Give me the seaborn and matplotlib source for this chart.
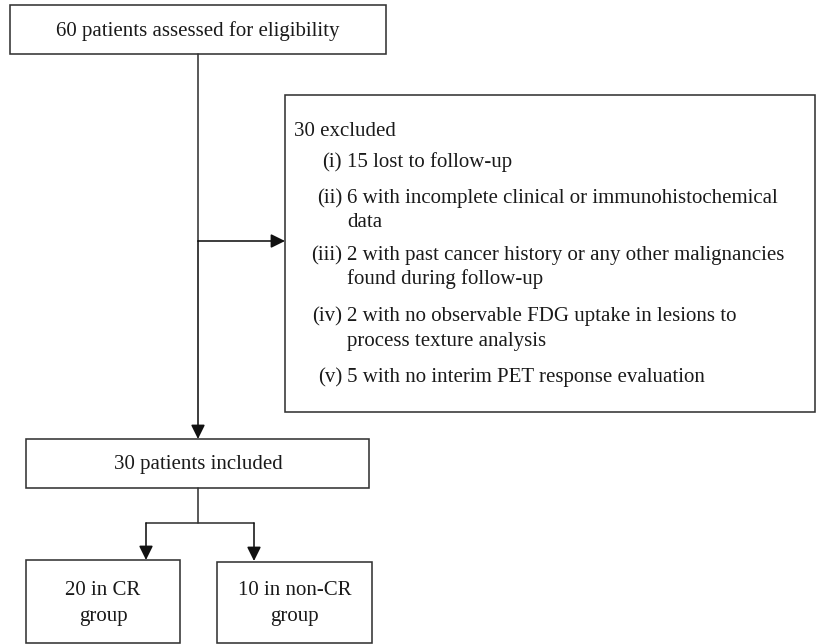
import matplotlib
matplotlib.use("Agg")
import matplotlib.pyplot as plt
import seaborn as sns
from matplotlib.patches import Rectangle

# ================= DATOS =================
top_label = "60 patients assessed for eligibility"
excluded_title = "30 excluded"
excluded_marks = ["(i)", "(ii)", "(iii)", "(iv)", "(v)"]
excluded_items = [
    ["15 lost to follow-up"],
    ["6 with incomplete clinical or immunohistochemical", "data"],
    ["2 with past cancer history or any other malignancies", "found during follow-up"],
    ["2 with no observable FDG uptake in lesions to", "process texture analysis"],
    ["5 with no interim PET response evaluation"],
]
included_label = "30 patients included"
group_labels = [["20 in CR", "group"], ["10 in non-CR", "group"]]

# ================= ESTILO =================
sns.set_style("white")
plt.rcParams["font.family"] = ["Liberation Serif", "DejaVu Serif"]
LINE = "#333333"
TXT = "#1a1a1a"
FS = 15
LW = 1.15

fig = plt.figure(figsize=(8.17, 6.44), dpi=100)
ax = fig.add_axes([0, 0, 1, 1])
ax.set_xlim(0, 817)
ax.set_ylim(644, 0)
ax.axis("off")


def caja(x0, y0, x1, y1):
    ax.add_patch(Rectangle((x0, y0), x1 - x0, y1 - y0, fill=False,
                           edgecolor=LINE, linewidth=LW))


def texto(x, y, s, ha="left"):
    ax.text(x, y, s, ha=ha, va="baseline", fontsize=FS, color=TXT)


def flecha(x0, y0, x1, y1):
    ax.annotate("", xy=(x1, y1), xytext=(x0, y0),
                arrowprops=dict(arrowstyle="-|>,head_length=0.85,head_width=0.42",
                                color="#111111", lw=LW, shrinkA=0, shrinkB=0))


# caja superior
caja(10, 5, 386, 54)
texto(198, 36, top_label, ha="center")

# línea principal y flecha lateral
ax.plot([198, 198], [54, 241], color=LINE, lw=LW)
flecha(198, 241, 285, 241)
flecha(198, 241, 198, 439)

# caja de excluidos
caja(285, 95, 815, 412)
texto(294, 136, excluded_title)
fila_y = [[167], [203, 227], [260, 284], [321, 346], [382]]
for marca, lineas, ys in zip(excluded_marks, excluded_items, fila_y):
    texto(342, ys[0], marca, ha="right")
    for linea, y in zip(lineas, ys):
        texto(347, y, linea)

# caja de incluidos
caja(26, 439, 369, 488)
texto(198, 469, included_label, ha="center")

# ramificación
ax.plot([198, 198], [488, 523], color=LINE, lw=LW)
ax.plot([146, 254], [523, 523], color=LINE, lw=LW)
flecha(146, 523, 146, 560)
flecha(254, 523, 254, 561)

# cajas de grupos
for (x0, x1, y0), lineas in zip([(26, 180, 560), (217, 372, 562)], group_labels):
    caja(x0, y0, x1, 643)
    for linea, y in zip(lineas, [595, 621]):
        texto((x0 + x1) / 2, y, linea, ha="center")

fig.savefig("out.png", dpi=100)
